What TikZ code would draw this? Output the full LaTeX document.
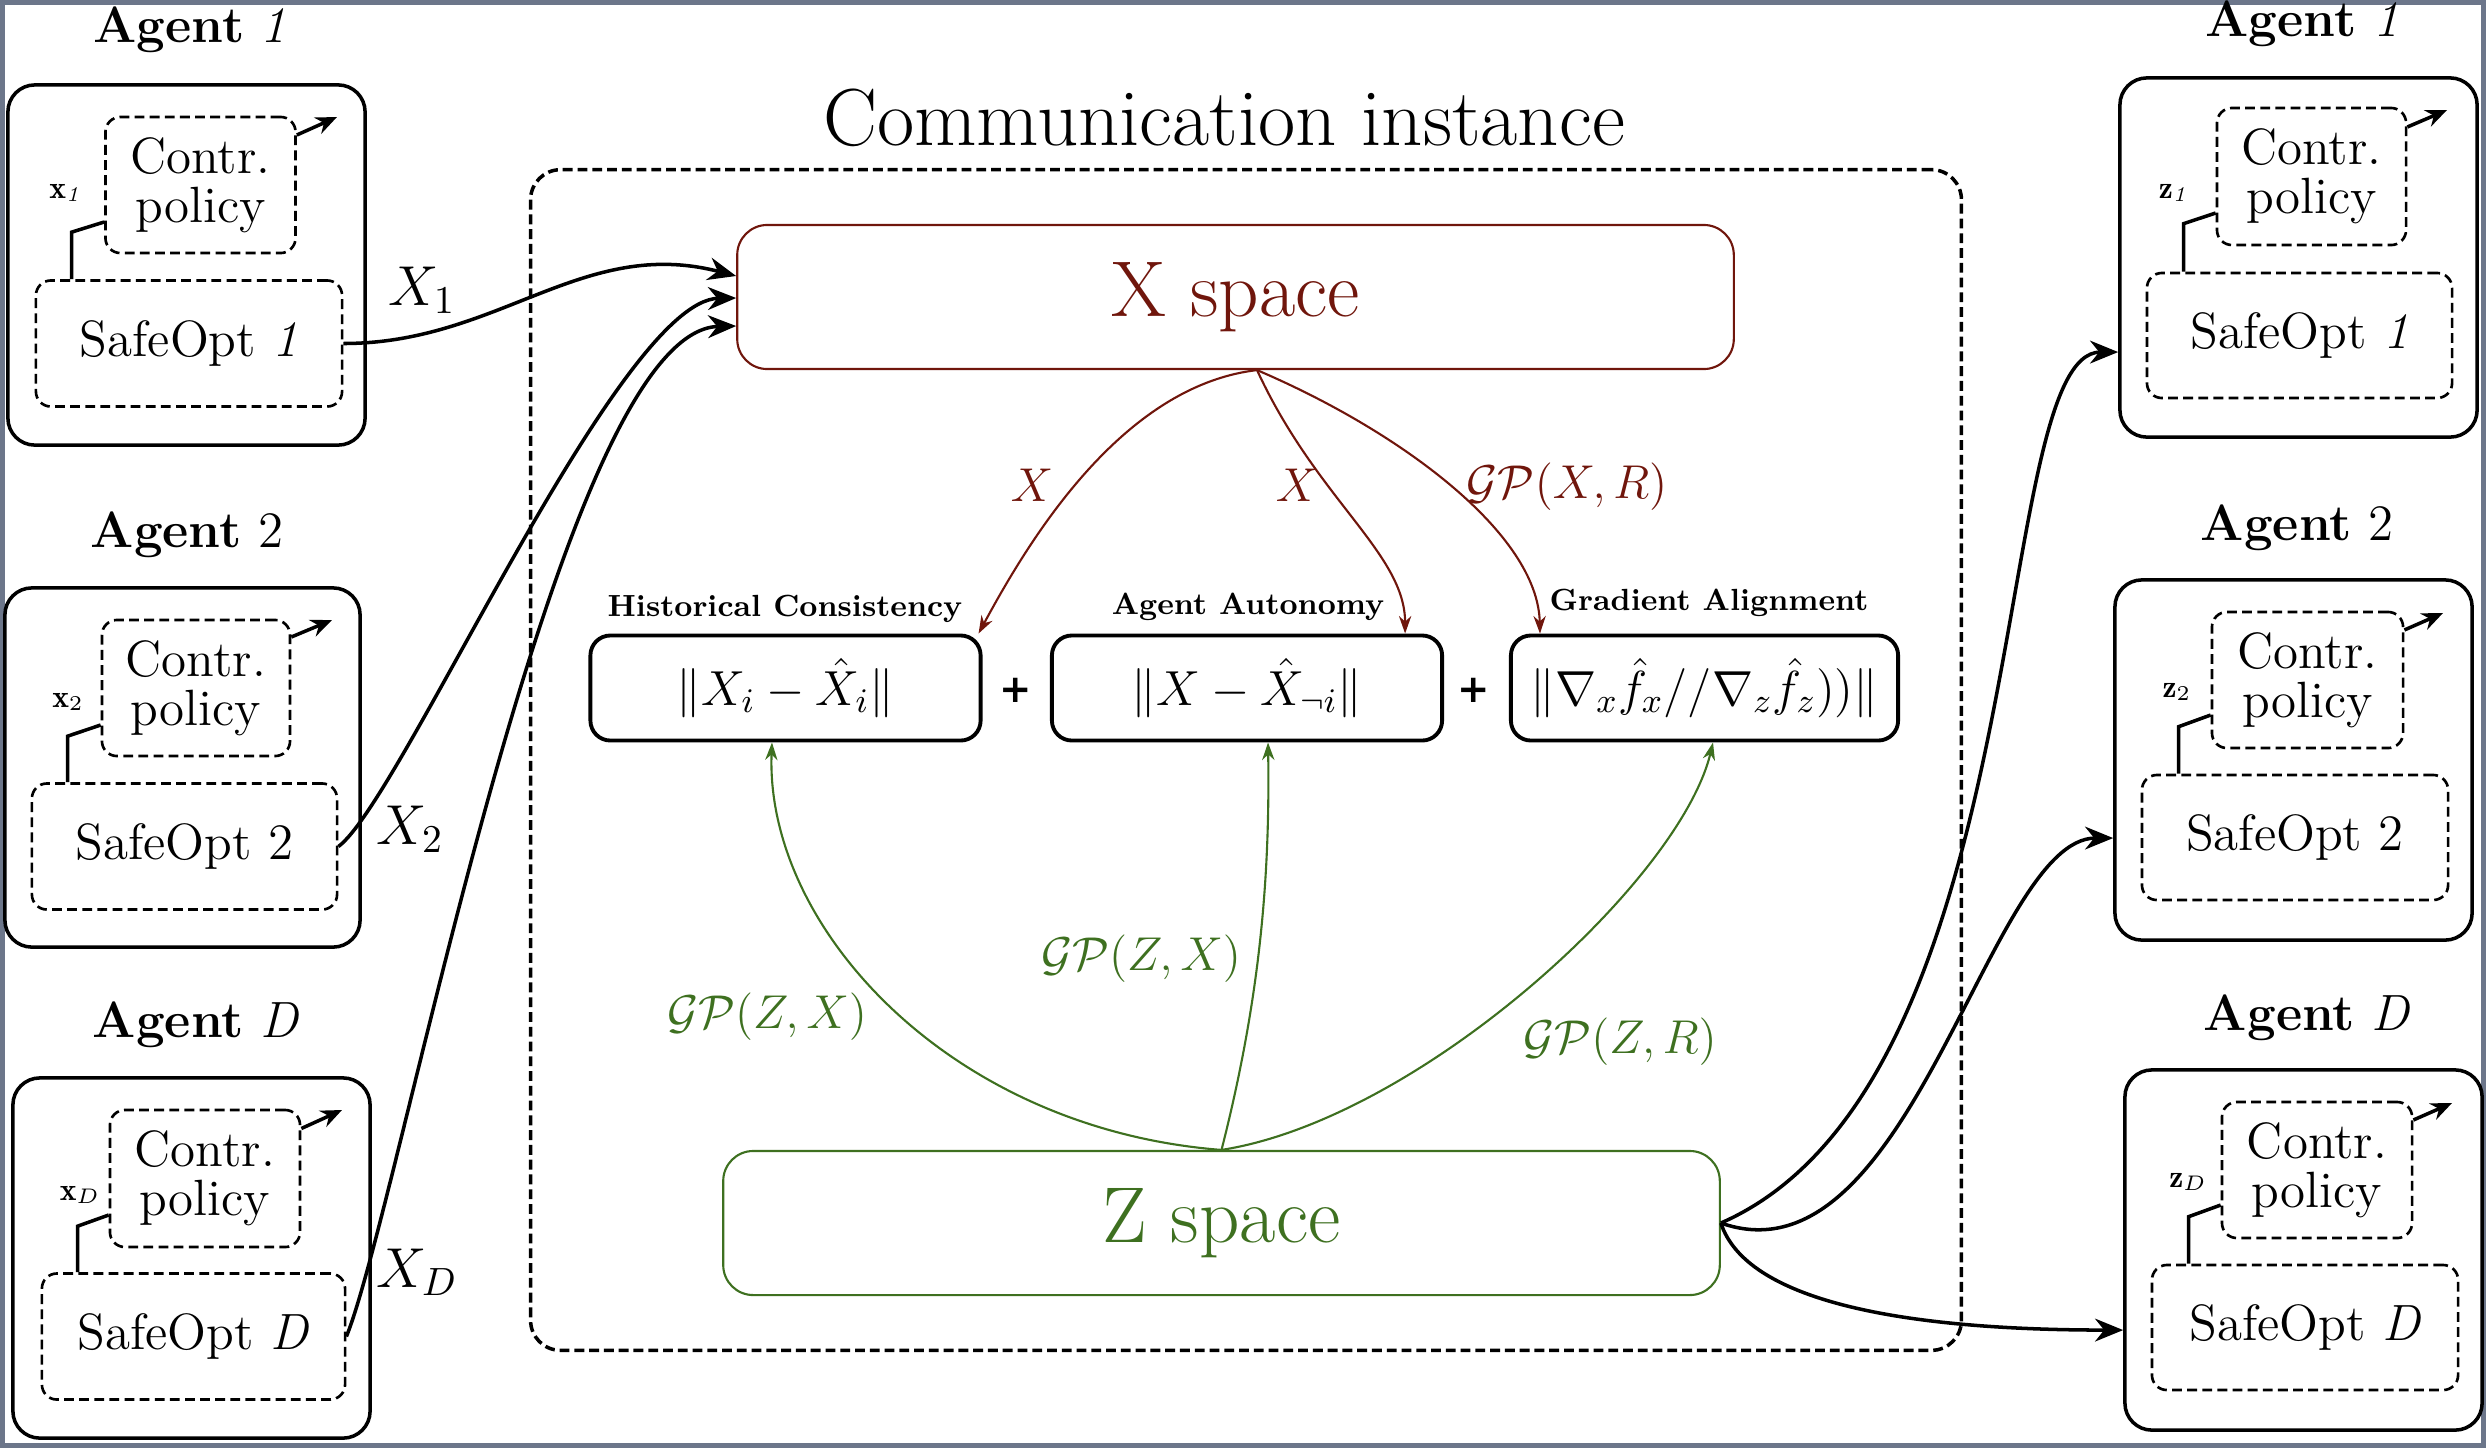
\documentclass[tikz,border=0pt]{standalone}
\usepackage{fix-cm}
\usepackage{fontspec}
\newfontfamily\heavyfont{DejaVu Sans}
\usetikzlibrary{arrows.meta}
\definecolor{xred}{RGB}{112,22,12}
\definecolor{zgreen}{RGB}{62,112,32}
\definecolor{framec}{RGB}{108,118,138}
\newcommand{\myfs}[2]{\fontsize{#1}{#2}\selectfont}
\tikzset{
  outerbox/.style={draw, line width=1pt, rounded corners=0.27cm, minimum width=3.57cm, minimum height=3.6cm, inner sep=0pt},
  contrbox/.style={draw, line width=0.75pt, dash pattern=on 2.8pt off 1.5pt, rounded corners=0.15cm, minimum width=1.9cm, minimum height=1.36cm, inner sep=0pt, align=center, font=\myfs{14.5}{14}},
  safebox/.style={draw, line width=0.75pt, dash pattern=on 2.8pt off 1.5pt, rounded corners=0.15cm, minimum width=3.05cm, minimum height=1.26cm, inner sep=0pt, font=\myfs{14.5}{16}},
  agenttitle/.style={font=\myfs{14.5}{17}},
  smalllab/.style={font=\myfs{9}{10}},
  xlab/.style={font=\myfs{16}{18}},
  link/.style={line width=1pt},
  smallarr/.style={line width=1pt, -{Stealth[length=6pt,width=5pt]}},
  bigarr/.style={line width=1pt, -{Stealth[length=8pt,width=6.5pt]}},
  spacebox/.style={draw, line width=0.6pt, rounded corners=0.3cm, minimum width=9.96cm, minimum height=1.44cm, inner sep=0pt, font=\myfs{22.5}{25}},
  fbox/.style={draw, line width=1.1pt, rounded corners=0.2cm, minimum width=3.9cm, minimum height=1.05cm, inner sep=0pt, font=\myfs{14}{16}},
  ftitle/.style={font=\myfs{8.7}{10}\bfseries},
  redarr/.style={xred, line width=0.6pt, -{Stealth[length=5pt,width=3.5pt]}},
  greenarr/.style={zgreen, line width=0.6pt, -{Stealth[length=5pt,width=3.5pt]}},
  redlab/.style={text=xred, font=\myfs{13.5}{15}},
  greenlab/.style={text=zgreen, font=\myfs{13.5}{15}},
  plussign/.style={font=\heavyfont\bfseries\myfs{11}{11}, inner sep=0pt},
}
\begin{document}
\begin{tikzpicture}[x=0.01cm,y=-0.01cm]
\useasboundingbox (0,0) rectangle (2486,1448);
\draw[framec, line width=0.05cm] (2.5,2.5) rectangle (2483.5,1445.5);

% ---------- Communication instance ----------
\node[font=\myfs{23}{26}] (ctitle) at (1224,118) {Communication instance};
\node[draw, line width=1pt, dash pattern=on 2.8pt off 1.4pt, rounded corners=0.3cm, minimum width=14.3cm, minimum height=11.8cm, inner sep=0pt] (comm) at (1246,760) {};

\node[spacebox, draw=xred, text=xred] (xs) at (1235.5,297) {X space};
\node[spacebox, draw=zgreen, text=zgreen] (zs) at (1221.5,1223) {Z space};

\node[fbox] (b1) at (785.5,688) {$\|X_i-\hat{X}_i\|$};
\node[fbox] (b2) at (1247,688) {$\|X-\hat{X}_{\neg i}\|$};
\node[fbox, minimum width=3.87cm] (b3) at (1704.5,688) {$\|\nabla_x\hat{f}_x//\nabla_z\hat{f}_z))\|$};
\node[ftitle] (h1) at (785,609) {Historical Consistency};
\node[ftitle] (h2) at (1248,607) {Agent Autonomy};
\node[ftitle] (h3) at (1709,603) {Gradient Alignment};
\node[plussign] (p1) at (1016,690) {+};
\node[plussign] (p2) at (1474,690) {+};

% red arrows
\draw[redarr] ([xshift=0.215cm]xs.south) .. controls +(-137,16) and +(48,-89) .. ([xshift=-0.04cm]b1.north east);
\draw[redarr] ([xshift=0.215cm]xs.south) .. controls +(60,130) and +(0,-80) .. ([xshift=1.58cm]b2.north);
\draw[redarr] ([xshift=0.215cm]xs.south) .. controls +(143,61) and +(-2,-100) .. ([xshift=0.31cm]b3.north west);
\node[redlab] (lx1) at (1032,485) {$X$};
\node[redlab] (lx2) at (1297,485) {$X$};
\node[redlab] (lgp) at (1567,487) {$\mathcal{GP}(X,R)$};

% green arrows
\draw[greenarr] (zs.north) .. controls +(-271.5,-21) and +(-7,185) .. ([xshift=-0.135cm]b1.south);
\draw[greenarr] (zs.north) .. controls +(38.5,-151) and +(2,135) .. ([xshift=0.21cm]b2.south);
\draw[greenarr] (zs.north) .. controls +(198.5,-31) and +(-33,138) .. ([xshift=0.085cm]b3.south);
\node[greenlab] (lg1) at (767,1017) {$\mathcal{GP}(Z,X)$};
\node[greenlab] (lg2) at (1141,959) {$\mathcal{GP}(Z,X)$};
\node[greenlab] (lg3) at (1620,1042) {$\mathcal{GP}(Z,R)$};

% ---------- Left agents ----------
% Agent 1
\node[agenttitle] (lt1) at (190,30) {\textbf{Agent} \textit{1}};
\node[outerbox] (la1) at (186.5,265) {};
\node[contrbox] (lc1) at (200.5,185) {Contr.\\policy};
\node[safebox, minimum width=3.06cm] (ls1) at (189,343.5) {SafeOpt \textit{1}};
\draw[link] ([xshift=0.37cm]ls1.north west) -- ++(0,-47) -- ([yshift=-0.37cm]lc1.west);
\node[smalllab] (lx1l) at (65,193) {$\mathbf{x}_{\mathit{1}}$};
\coordinate (lo1) at (337,117);
\draw[smallarr] ([yshift=0.5cm]lc1.east) -- (lo1);

% Agent 2
\node[agenttitle] (lt2) at (187,535) {\textbf{Agent} 2};
\node[outerbox, minimum width=3.55cm, minimum height=3.59cm] (la2) at (182.5,767.5) {};
\node[contrbox, minimum width=1.88cm] (lc2) at (196,688) {Contr.\\policy};
\node[safebox] (ls2) at (184.5,846.5) {SafeOpt 2};
\draw[link] ([xshift=0.37cm]ls2.north west) -- ++(0,-46) -- ([yshift=-0.37cm]lc2.west);
\node[smalllab] (lx2l) at (68,702) {$\mathbf{x}_2$};
\coordinate (lo2) at (332,620);
\draw[smallarr] ([yshift=0.51cm]lc2.east) -- (lo2);

% Agent D
\node[agenttitle] (ltD) at (196,1025) {\textbf{Agent} \textit{D}};
\node[outerbox] (laD) at (191.5,1258) {};
\node[contrbox, minimum height=1.37cm] (lcD) at (205,1178.5) {Contr.\\policy};
\node[safebox, minimum width=3.03cm] (lsD) at (193.5,1336.5) {SafeOpt \textit{D}};
\draw[link] ([xshift=0.37cm]lsD.north west) -- ++(0,-46) -- ([yshift=-0.365cm]lcD.west);
\node[smalllab] (lxDl) at (80,1195) {$\mathbf{x}_{D}$};
\coordinate (loD) at (342,1110);
\draw[smallarr] ([yshift=0.5cm]lcD.east) -- (loD);

% left connectors
\draw[bigarr] (ls1.east) .. controls +(155,0) and +(-154,-40) .. ([yshift=0.21cm]xs.west);
\draw[bigarr] (ls2.east) .. controls +(63,-46.5) and +(-118,2) .. ([yshift=-0.01cm]xs.west);
\draw[bigarr] (lsD.east) .. controls +(55,-136.5) and +(-178,4) .. ([yshift=-0.29cm]xs.west);
\node[xlab] (lX1) at (422,290) {$X_1$};
\node[xlab] (lX2) at (410,829) {$X_2$};
\node[xlab] (lXD) at (417,1272) {$X_D$};

% ---------- Right agents ----------
% Agent 1
\node[agenttitle] (rt1) at (2302,24) {\textbf{Agent} \textit{1}};
\node[outerbox, minimum height=3.59cm] (ra1) at (2298.5,257.5) {};
\node[contrbox, minimum width=1.89cm, minimum height=1.37cm] (rc1) at (2311.5,176.5) {Contr.\\policy};
\node[safebox, minimum height=1.25cm] (rs1) at (2299.5,335.5) {SafeOpt \textit{1}};
\draw[link] ([xshift=0.38cm]rs1.north west) -- ++(0,-48) -- ([yshift=-0.365cm]rc1.west);
\node[smalllab] (rz1) at (2173,193) {$\mathbf{z}_{\mathit{1}}$};
\coordinate (ro1) at (2447,110);
\draw[smallarr] ([yshift=0.495cm]rc1.east) -- (ro1);

% Agent 2
\node[agenttitle] (rt2) at (2297,528) {\textbf{Agent} 2};
\node[outerbox] (ra2) at (2293.5,760) {};
\node[contrbox, minimum width=1.91cm] (rc2) at (2307.5,680) {Contr.\\policy};
\node[safebox, minimum width=3.06cm, minimum height=1.25cm] (rs2) at (2295,837.5) {SafeOpt 2};
\draw[link] ([xshift=0.38cm]rs2.north west) -- ++(0,-47) -- ([yshift=-0.35cm]rc2.west);
\node[smalllab] (rz2) at (2177,692) {$\mathbf{z}_2$};
\coordinate (ro2) at (2443,613);
\draw[smallarr] ([yshift=0.5cm]rc2.east) -- (ro2);

% Agent D
\node[agenttitle] (rtD) at (2307,1018) {\textbf{Agent} \textit{D}};
\node[outerbox] (raD) at (2303.5,1250) {};
\node[contrbox] (rcD) at (2317,1170) {Contr.\\policy};
\node[safebox, minimum width=3.06cm, minimum height=1.25cm] (rsD) at (2305,1327.5) {SafeOpt \textit{D}};
\draw[link] ([xshift=0.38cm]rsD.north west) -- ++(0,-47) -- ([yshift=-0.35cm]rcD.west);
\node[smalllab] (rzD) at (2188,1182) {$\mathbf{z}_{D}$};
\coordinate (roD) at (2452,1103);
\draw[smallarr] ([yshift=0.5cm]rcD.east) -- (roD);

% right connectors
\draw[bigarr] (zs.east) .. controls +(320,-140) and +(-130,0) .. ([yshift=-0.945cm]ra1.west);
\draw[bigarr] (zs.east) .. controls +(190,67) and +(-125,0) .. ([yshift=-0.78cm]ra2.west);
\draw[bigarr] (zs.east) .. controls +(25,77) and +(-225,0) .. ([yshift=-0.8cm]raD.west);
\end{tikzpicture}
\end{document}
